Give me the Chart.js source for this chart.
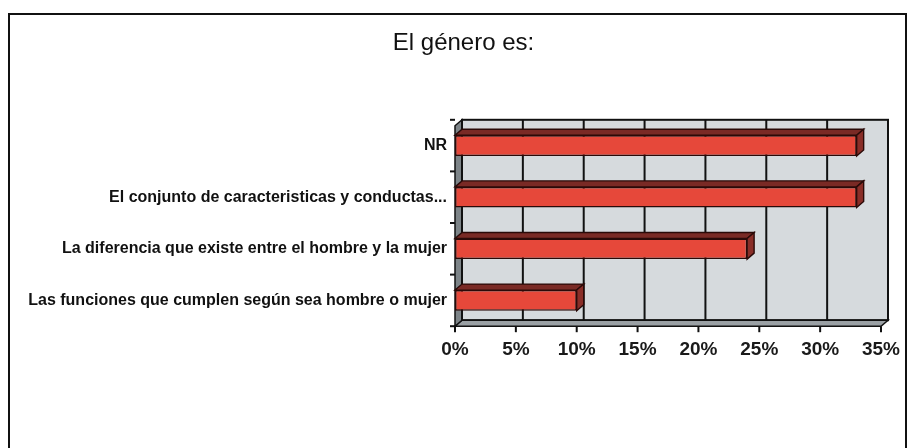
<!DOCTYPE html>
<html><head><meta charset="utf-8">
<script src="https://cdn.jsdelivr.net/npm/chart.js@4"></script>
<style>html,body{margin:0;padding:0;background:#fff}#w{width:914px;height:448px}</style>
</head><body><div id="w"><canvas id="c" width="914" height="448"></canvas></div>
<script>
const categories = ["NR","El conjunto de caracteristicas y conductas...","La diferencia que existe entre el hombre y la mujer","Las funciones que cumplen según sea hombre o mujer"];
const values = [33, 33, 24, 10];
const tickLabels = ["0%","5%","10%","15%","20%","25%","30%","35%"];

const DX = 7, DY = -6;
const deco = {
  id: 'deco',
  afterLayout(chart) { chart.scales.y.left = 0; },
  beforeDraw(chart) {
    const {ctx, chartArea: a} = chart;
    ctx.save();
    ctx.fillStyle = '#fff';
    ctx.fillRect(0,0,chart.width,chart.height);
    ctx.fillStyle = '#d6dadd';
    ctx.fillRect(a.left+DX, a.top, a.right-a.left, a.bottom-a.top+DY);
    ctx.strokeStyle='#111'; ctx.lineWidth=2;
    ctx.strokeRect(a.left+DX, a.top, a.right-a.left, a.bottom-a.top+DY);
    ctx.fillStyle = '#9aa0a4';
    ctx.beginPath();
    ctx.moveTo(a.left, a.bottom); ctx.lineTo(a.right, a.bottom);
    ctx.lineTo(a.right+DX, a.bottom+DY); ctx.lineTo(a.left+DX, a.bottom+DY); ctx.closePath(); ctx.fill();
    ctx.lineWidth=1.5; ctx.stroke();
    ctx.fillStyle = '#7d8488';
    ctx.beginPath();
    ctx.moveTo(a.left, a.top-DY); ctx.lineTo(a.left+DX, a.top);
    ctx.lineTo(a.left+DX, a.bottom+DY); ctx.lineTo(a.left, a.bottom); ctx.closePath(); ctx.fill();
    ctx.stroke();
    const xs = chart.scales.x;
    ctx.strokeStyle = '#111'; ctx.lineWidth = 2;
    xs.ticks.forEach(t=>{
      const x = xs.getPixelForValue(t.value)+DX;
      ctx.beginPath(); ctx.moveTo(x, a.top); ctx.lineTo(x, a.bottom+DY); ctx.stroke();
    });
    ctx.restore();
  },
  afterDatasetsDraw(chart) {
    const {ctx} = chart;
    const meta = chart.getDatasetMeta(0);
    ctx.save();
    ctx.lineWidth = 1.4; ctx.strokeStyle = '#2a0a08';
    meta.data.forEach(b => {
      const {x, y, base, height} = b.getProps(['x','y','base','height'], true);
      const top = y - height/2, bot = y + height/2;
      ctx.fillStyle = '#7a2a25';
      ctx.beginPath();
      ctx.moveTo(base, top); ctx.lineTo(base+DX, top+DY); ctx.lineTo(x+DX, top+DY); ctx.lineTo(x, top); ctx.closePath();
      ctx.fill(); ctx.stroke();
      ctx.fillStyle = '#8a2e28';
      ctx.beginPath();
      ctx.moveTo(x, top); ctx.lineTo(x+DX, top+DY); ctx.lineTo(x+DX, bot+DY); ctx.lineTo(x, bot); ctx.closePath();
      ctx.fill(); ctx.stroke();
    });
    ctx.restore();
  },
  afterDraw(chart) {
    const {ctx} = chart;
    ctx.save();
    ctx.strokeStyle = '#111'; ctx.lineWidth = 2;
    ctx.strokeRect(9, 14, 897, 445);
    const a = chart.chartArea;
    const n = categories.length;
    for (let i = 0; i <= n; i++) {
      const yy = a.top + (a.bottom - a.top) * i / n;
      ctx.beginPath(); ctx.moveTo(a.left-5, yy); ctx.lineTo(a.left, yy); ctx.stroke();
    }
    const xs = chart.scales.x;
    xs.ticks.forEach(t => {
      const x = xs.getPixelForValue(t.value);
      ctx.beginPath(); ctx.moveTo(x, a.bottom); ctx.lineTo(x, a.bottom+6); ctx.stroke();
    });
    ctx.restore();
  }
};

new Chart(document.getElementById('c'), {
  type: 'bar',
  data: { labels: categories, datasets: [{ data: values, backgroundColor: '#e6483a', borderColor: '#2a0a08', borderWidth: 1.5, borderSkipped: false, categoryPercentage: 1, barPercentage: 0.4 }] },
  options: {
    indexAxis: 'y', responsive: false, animation: false,
    layout: { padding: { left: 46, right: 33, top: 0, bottom: 83 } },
    plugins: {
      legend: { display: false }, tooltip: { enabled: false },
      title: { display: true, text: 'El género es:', color: '#111', font: { family: 'Liberation Sans, Arial', size: 24, weight: 'normal' }, padding: { top: 29, bottom: 62 } }
    },
    scales: {
      x: { min: 0, max: 35, position: 'bottom',
        grid: { display: false }, border: { display: false },
        ticks: { stepSize: 5, color: '#1a1a1a', padding: 4, font: { family: 'Liberation Sans, Arial', size: 19, weight: 'bold' }, callback: (v, i) => tickLabels[i] } },
      y: { grid: { display: false }, border: { display: false },
        afterFit(s) { s.width = 409; },
        ticks: { color: '#111', padding: 0, font: { family: 'Liberation Sans, Arial', size: 16, weight: 'bold' } } }
    }
  },
  plugins: [deco]
});
</script></body></html>
